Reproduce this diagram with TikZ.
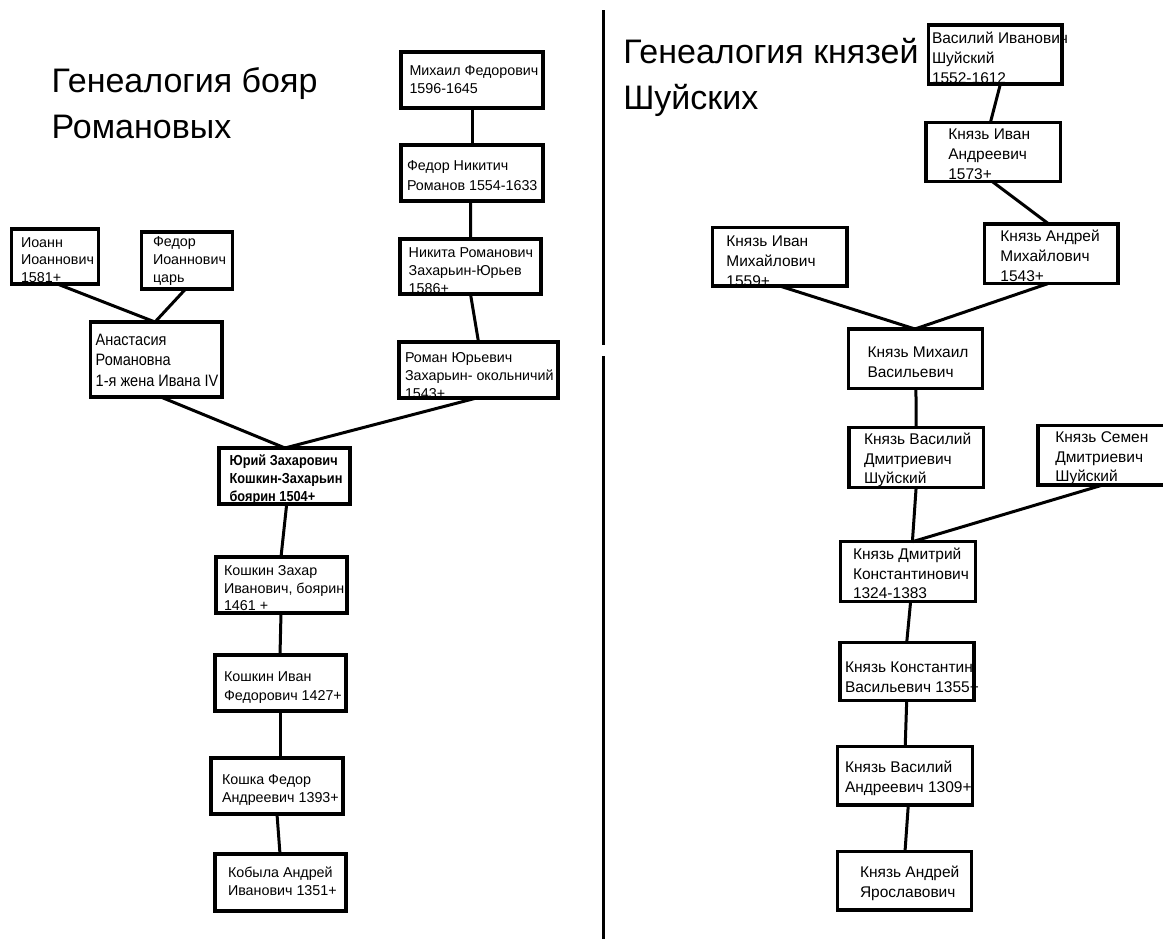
\documentclass[tikz,border=0pt]{standalone}
\usepackage{fontspec}
\setmainfont{Liberation Sans}
\newfontfamily\condfont{Liberation Sans}[FakeStretch=0.88]
\newcommand\mystrut{\rule{0pt}{1em}}
\tikzset{
  bx/.style={draw, line width=3.4pt, inner sep=0pt, outer sep=0pt, rectangle},
  tx/.style={anchor=north west, inner sep=0pt, outer sep=0pt, align=left},
  lt/.style={tx, font=\fontsize{14.3}{18}\selectfont},
  rt/.style={tx, font=\fontsize{15.5}{20}\selectfont},
  ttl/.style={tx, font=\fontsize{34}{46}\selectfont},
  ln/.style={line width=3pt},
  dv/.style={line width=3.4pt},
}
\newcommand\mkbox[5]{\node[bx, minimum width={(#4-#2)*1pt}, minimum height={(#5-#3)*1pt}] (#1) at ({(#2+#4)/2},{(#3+#5)/2}) {};}
\begin{document}
\begin{tikzpicture}[x=1pt,y=-1pt]
\useasboundingbox (0,0) rectangle (1163,938);
% titles
\node[ttl] (tl) at (51.7,58.6) {\mystrut Генеалогия бояр\\Романовых};
\node[ttl] (tr) at (623.3,29.6) {\mystrut Генеалогия князей\\Шуйских};
% divider
\coordinate (d1) at (603.5,10);
\coordinate (d2) at (603.5,345);
\coordinate (d3) at (603.5,356);
\coordinate (d4) at (603.5,945);
\draw[dv] (d1) -- (d2);
\draw[dv] (d3) -- (d4);
% left texts
\node[lt] (mih-t) at (409.5,61) {\mystrut Михаил Федорович\\1596-1645};
\node[lt, font=\fontsize{14.3}{20}\selectfont] (fn-t) at (407,156) {\mystrut Федор Никитич\\Романов 1554-1633};
\node[lt] (nik-t) at (408.7,242.7) {\mystrut Никита Романович\\Захарьин-Юрьев\\1586+};
\node[lt] (rom-t) at (405,347.7) {\mystrut Роман Юрьевич\\Захарьин- окольничий\\1543+};
\node[lt, font=\fontsize{14.3}{17.5}\selectfont] (ioa-t) at (21,232.7) {\mystrut Иоанн\\Иоаннович\\1581+};
\node[lt] (fio-t) at (153,232) {\mystrut Федор\\Иоаннович\\царь};
\node[tx, font=\condfont\fontsize{16.5}{20.7}\selectfont] (ana-t) at (95.7,328.6) {\mystrut Анастасия\\Романовна\\1-я жена Ивана IV};
\node[tx, font=\condfont\bfseries\fontsize{14.5}{18}\selectfont] (yur-t) at (229.6,451) {\mystrut Юрий Захарович\\Кошкин-Захарьин\\боярин 1504+};
\node[lt, font=\fontsize{14.3}{17.7}\selectfont] (kz-t) at (224,561) {\mystrut Кошкин Захар\\Иванович, боярин\\1461 +};
\node[lt, font=\fontsize{14.3}{19}\selectfont] (ki-t) at (224,667) {\mystrut Кошкин Иван\\Федорович 1427+};
\node[lt, font=\fontsize{14.3}{17.7}\selectfont] (kf-t) at (222,770) {\mystrut Кошка Федор\\Андреевич 1393+};
\node[lt, font=\fontsize{14.3}{18.3}\selectfont] (kob-t) at (228,863) {\mystrut Кобыла Андрей\\Иванович 1351+};
% right texts
\node[rt] (vas-t) at (932,27.6) {\mystrut Василий Иванович\\Шуйский\\1552-1612};
\node[rt] (iva-t) at (948.3,124) {\mystrut Князь Иван\\Андреевич\\1573+};
\node[rt] (and-t) at (1000.4,225.6) {\mystrut Князь Андрей\\Михайлович\\1543+};
\node[rt] (ivm-t) at (726.4,230.6) {\mystrut Князь Иван\\Михайлович\\1559+};
\node[rt, font=\fontsize{15.5}{19.3}\selectfont] (mv-t) at (867.5,342.3) {\mystrut Князь Михаил\\Васильевич};
\node[rt, font=\fontsize{15.5}{19.5}\selectfont] (vd-t) at (864,429) {\mystrut Князь Василий\\Дмитриевич\\Шуйский};
\node[rt, font=\fontsize{15.5}{19.5}\selectfont] (sem-t) at (1055.3,427.3) {\mystrut Князь Семен\\Дмитриевич\\Шуйский};
\node[rt, font=\fontsize{15.5}{19.5}\selectfont] (dk-t) at (853,544) {\mystrut Князь Дмитрий\\Константинович\\1324-1383};
\node[rt] (kv-t) at (845,656.6) {\mystrut Князь Константин\\Васильевич 1355+};
\node[rt] (va-t) at (845,757.3) {\mystrut Князь Василий\\Андреевич 1309+};
\node[rt] (ay-t) at (860,862.3) {\mystrut Князь Андрей\\Ярославович};
% left boxes
\mkbox{mih}{401}{52}{543}{108}
\mkbox{fn}{401}{145}{543}{201}
\mkbox{nik}{400}{239}{541}{294}
\mkbox{rom}{399}{342}{558}{398}
\mkbox{ioa}{11.5}{229}{98.5}{284}
\mkbox{fio}{141.5}{232}{232.5}{289}
\mkbox{ana}{90.5}{322}{222}{397}
\mkbox{yur}{219}{448}{350}{504}
\mkbox{kz}{216}{557}{347}{613}
\mkbox{ki}{215}{655}{346}{711}
\mkbox{kf}{211}{758}{343}{814}
\mkbox{kob}{215}{854}{346}{911}
% right boxes
\mkbox{vas}{928.5}{25}{1062}{84}
\mkbox{iva}{926}{122.7}{1060.7}{181.7}
\mkbox{and}{984.2}{224}{1118}{283.3}
\mkbox{ivm}{712.4}{227.3}{847}{286}
\mkbox{mv}{848.5}{329}{982.4}{388.3}
\mkbox{vd}{848.8}{427.7}{983.5}{487.3}
\mkbox{sem}{1038}{425.7}{1180}{485}
\mkbox{dk}{840.6}{541.7}{975.2}{601.7}
\mkbox{kv}{840}{642.7}{974}{700.7}
\mkbox{va}{837.7}{746.7}{972.7}{805}
\mkbox{ay}{837.7}{851.7}{971.7}{910}
% left connectors
\draw[ln] (mih.south) -- (fn.north);
\draw[ln] ([xshift=-1.3pt]fn.south) -- (nik.north);
\draw[ln] (nik.south) -- (rom.north);
\draw[ln] ([xshift=-2pt]rom.south) -- ([xshift=0.5pt]yur.north);
\draw[ln] ([xshift=4.5pt]ana.south) -- ([xshift=0.5pt]yur.north);
\draw[ln] ([xshift=2.4pt]ioa.south) -- ([xshift=-1.25pt]ana.north);
\draw[ln] ([xshift=-1.4pt]fio.south) -- ([xshift=-1.25pt]ana.north);
\draw[ln] ([xshift=2.2pt]yur.south) -- ([xshift=-0.5pt]kz.north);
\draw[ln] ([xshift=-0.5pt]kz.south) -- ([xshift=-0.5pt]ki.north);
\draw[ln] ([xshift=-0.5pt]ki.south) -- ([xshift=3pt]kf.north);
\draw[ln] (kf.south) -- ([xshift=-0.5pt]kob.north);
% right connectors
\draw[ln] ([xshift=5.15pt]vas.south) -- ([xshift=-3pt]iva.north);
\draw[ln] ([xshift=-0.85pt]iva.south) -- ([xshift=-2.3pt]and.north);
\draw[ln] ([xshift=-2.3pt]and.south) -- ([xshift=-0.5pt]mv.north);
\draw[ln] (ivm.south) -- ([xshift=-0.5pt]mv.north);
\draw[ln] ([xshift=0.5pt]mv.south) -- (vd.north);
\draw[ln] (vd.south) -- ([xshift=4.5pt]dk.north);
\draw[ln] ([xshift=-6.3pt]sem.south) -- ([xshift=4.5pt]dk.north);
\draw[ln] ([xshift=2.7pt]dk.south) -- ([xshift=-0.3pt]kv.north);
\draw[ln] ([xshift=-0.3pt]kv.south) -- (va.north);
\draw[ln] ([xshift=3.1pt]va.south) -- ([xshift=0.3pt]ay.north);
\end{tikzpicture}
\end{document}
